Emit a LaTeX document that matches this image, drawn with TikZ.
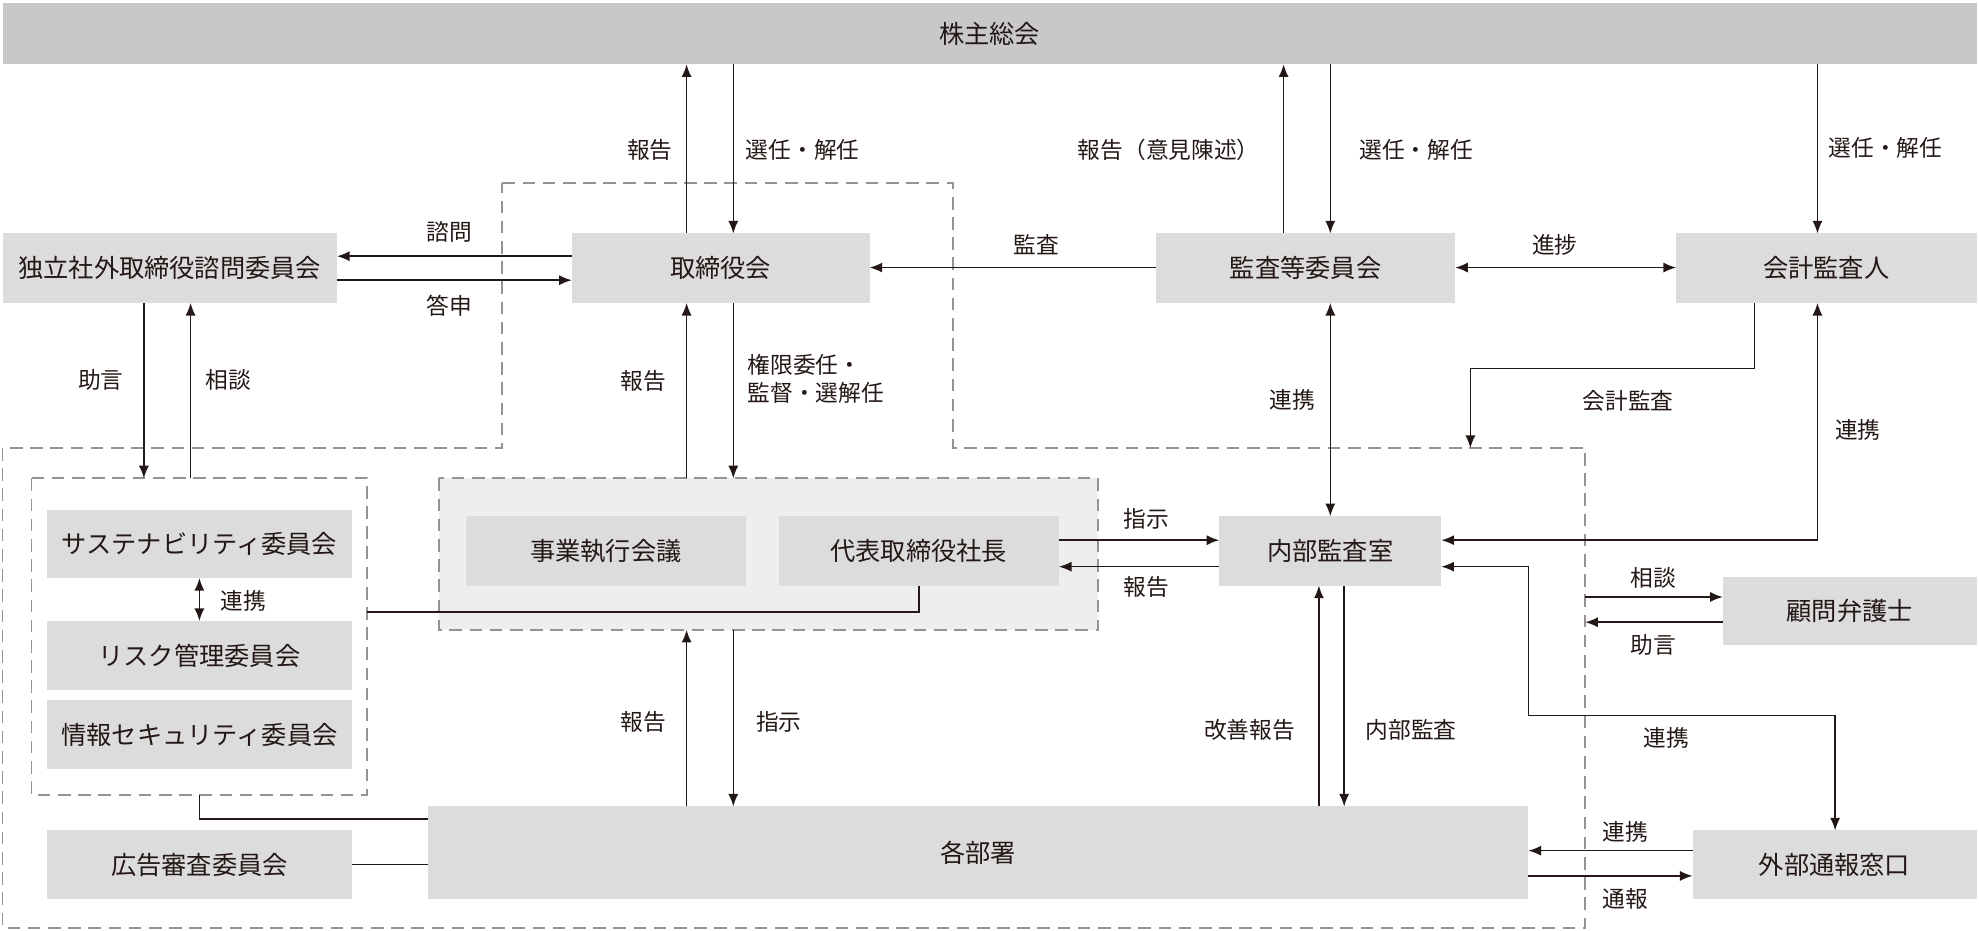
\documentclass[tikz,border=0pt]{standalone}
\usepackage{fontspec}
\setmainfont{Noto Sans CJK JP}
\usetikzlibrary{arrows.meta}
\definecolor{bx}{HTML}{DCDCDC}
\definecolor{top}{HTML}{C8C8CA}
\definecolor{ex}{HTML}{EEEEEF}
\definecolor{ink}{HTML}{231815}
\begin{document}
\begin{tikzpicture}[x=0.5pt,y=-0.5pt,
  box/.style={fill=bx,draw=none,inner sep=0pt,font=\fontsize{10}{12}\selectfont,text=ink},
  lab/.style={font=\fontsize{9}{11}\selectfont,text=ink,inner sep=1pt},
  ar/.style={draw=ink,line width=0.6pt,-{Latex[length=5pt,width=4pt]}},
  da/.style={draw=ink,line width=0.6pt,{Latex[length=5pt,width=4pt]}-{Latex[length=5pt,width=4pt]}},
  ln/.style={draw=ink,line width=0.6pt},
  dsh/.style={draw=gray!85,line width=0.7pt,dash pattern=on 5pt off 3pt}]
\useasboundingbox (0,0) rectangle (1568,737);
\def\bx#1#2#3#4#5#6{\node[box,minimum width={(#4-#2)*0.5pt},minimum height={(#5-#3)*0.5pt}] (#1) at ({(#2+#4)/2},{(#3+#5)/2}) {#6};}
% dashed regions
\draw[dsh] (398,145) -- (755,145) -- (755,355) -- (1256,355) -- (1256,735) -- (2,735) -- (2,355) -- (398,355) -- cycle;
\draw[dsh] (25,379) rectangle (291,630);
\draw[dsh,fill=ex] (348,379) rectangle (870,499);
\coordinate (cm) at (291,485);
% boxes
\node[box,fill=top,minimum width=782pt,minimum height=24.5pt] (sh) at (784,26.5) {株主総会};
\bx{adv}{2}{185}{267}{240}{独立社外取締役諮問委員会}
\bx{bod}{453}{185}{689}{240}{取締役会}
\bx{aud}{916}{185}{1153}{240}{監査等委員会}
\bx{acc}{1328}{185}{1566}{240}{会計監査人}
\bx{sus}{37}{404}{279}{458}{サステナビリティ委員会}
\bx{risk}{37}{492}{279}{547}{リスク管理委員会}
\bx{info}{37}{555}{279}{609}{情報セキュリティ委員会}
\bx{ad}{37}{658}{279}{712}{広告審査委員会}
\bx{exm}{369}{409}{591}{464}{事業執行会議}
\bx{pres}{617}{409}{839}{464}{代表取締役社長}
\bx{ia}{966}{409}{1142}{464}{内部監査室}
\bx{law}{1365}{457}{1566}{511}{顧問弁護士}
\bx{ext}{1341}{658}{1566}{712}{外部通報窓口}
\bx{dep}{339}{639}{1211}{712}{各部署}
% shareholders
\draw[ar] (544,185) -- (544,51); \draw[ar] (581,51) -- (581,185);
\node[lab] at (515,119) {報告}; \node[lab] at (636,119) {選任・解任};
\draw[ar] (1017,185) -- (1017,51); \draw[ar] (1054,51) -- (1054,185);
\node[lab] at (926,119) {報告（意見陳述）}; \node[lab] at (1122,119) {選任・解任};
\draw[ar] (1440,51) -- (1440,185); \node[lab] at (1494,117) {選任・解任};
% board level
\draw[ar] (453,203) -- (267,203); \draw[ar] (267,222) -- (453,222);
\node[lab] at (356,184) {諮問}; \node[lab] at (356,242) {答申};
\draw[ar] (916,212) -- (689,212); \node[lab] at (821,194) {監査};
\draw[da] (1153,212) -- (1328,212); \node[lab] at (1232,194) {進捗};
\draw[ar] (114,240) -- (114,379); \draw[ar] (151,379) -- (151,240);
\node[lab] at (80,301) {助言}; \node[lab] at (181,301) {相談};
\draw[ar] (544,379) -- (544,240); \draw[ar] (581,240) -- (581,379);
\node[lab] at (510,302) {報告};
\node[lab,align=left,anchor=west] at (590,300) {権限委任・\\監督・選解任};
\draw[da] (1054,240) -- (1054,409); \node[lab] at (1024,317) {連携};
\draw[ar] (1390,240) -- (1390,292) -- (1165,292) -- (1165,355);
\node[lab] at (1290,318) {会計監査};
\draw[da] (1142,428) -- (1440,428) -- (1440,240); \node[lab] at (1472,341) {連携};
% executive
\draw[ar] (839,428) -- (966,428); \draw[ar] (966,449) -- (839,449);
\node[lab] at (908,411) {指示}; \node[lab] at (908,465) {報告};
\draw[ln] (cm) -- (728,485) -- (728,464);
\draw[da] (158,458) -- (158,492); \node[lab] at (193,476) {連携};
\draw[ar] (1256,473) -- (1365,473); \draw[ar] (1365,493) -- (1256,493);
\node[lab] at (1310,458) {相談}; \node[lab] at (1310,511) {助言};
\draw[da] (1142,449) -- (1211,449) -- (1211,567) -- (1454,567) -- (1454,658);
\node[lab] at (1320,585) {連携};
\draw[ar] (1045,639) -- (1045,464); \draw[ar] (1065,464) -- (1065,639);
\node[lab] at (990,578) {改善報告}; \node[lab] at (1118,578) {内部監査};
\draw[ar] (544,639) -- (544,499); \draw[ar] (581,499) -- (581,639);
\node[lab] at (510,572) {報告}; \node[lab] at (617,572) {指示};
\draw[ar] (1341,674) -- (1211,674); \draw[ar] (1211,694) -- (1341,694);
\node[lab] at (1288,659) {連携}; \node[lab] at (1288,712) {通報};
\draw[ln] (158,630) -- (158,649) -- (339,649);
\draw[ln] (279,685) -- (339,685);
\end{tikzpicture}
\end{document}
